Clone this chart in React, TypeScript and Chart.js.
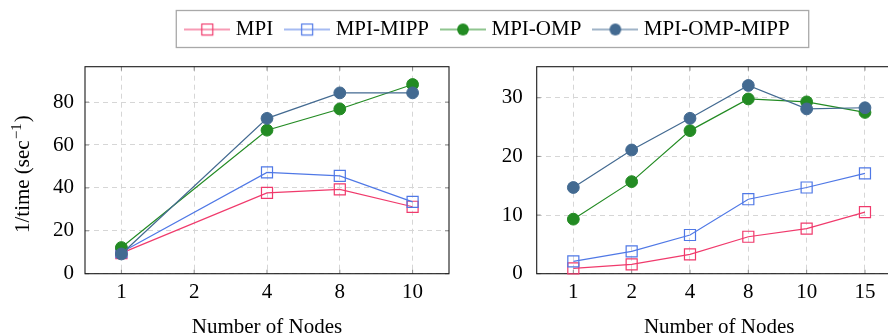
import React, { useEffect, useRef } from 'react';
import { Chart, registerables } from 'chart.js';

Chart.register(...registerables);

// ---- data ----
const seriesNames = ['MPI', 'MPI-MIPP', 'MPI-OMP', 'MPI-OMP-MIPP'];
const seriesColors = ['#F03A6C', '#4F78E6', '#238B23', '#436A91'];
const seriesMarkers = ['rect', 'rect', 'circle', 'circle'];

const leftNodes = ['1', '2', '4', '8', '10'];
const leftMPI = [9.6, null, 37.7, 39.3, 31.2];
const leftMPIMIPP = [10.0, null, 47.2, 45.6, 33.5];
const leftMPIOMP = [12.2, null, 66.9, 76.8, 88.2];
const leftMPIOMPMIPP = [9.2, null, 72.4, 84.3, 84.3];
const leftYMax = 96.5;
const leftYStep = 20;

const rightNodes = ['1', '2', '4', '8', '10', '15'];
const rightMPI = [0.9, 1.6, 3.3, 6.3, 7.7, 10.5];
const rightMPIMIPP = [2.1, 3.8, 6.6, 12.7, 14.7, 17.1];
const rightMPIOMP = [9.3, 15.7, 24.4, 29.8, 29.3, 27.5];
const rightMPIOMPMIPP = [14.7, 21.1, 26.5, 32.1, 28.1, 28.3];
const rightYMax = 35.3;
const rightYStep = 10;

const xTitle = 'Number of Nodes';
const yTitleMain = '1/time (sec';
const yTitleSup = '\u22121';
const yTitleEnd = ')';

// ---- styling / layout ----
const FONT = 'Liberation Serif';
const FS = 21;
const PLOT_TOP = 66.7;
const PLOT_BOTTOM = 273.7;
const H = 336;
const GRID = '#d6d6d6';

Chart.defaults.font.family = FONT;
Chart.defaults.font.size = FS;
Chart.defaults.color = '#000';

function makeDatasets(values: (number | null)[][]) {
  return seriesNames.map((name, i) => {
    const rect = seriesMarkers[i] === 'rect';
    return {
      label: name,
      data: values[i].map((v, k) => ({ x: k, y: v })),
      borderColor: seriesColors[i],
      backgroundColor: rect ? 'rgba(0,0,0,0)' : seriesColors[i],
      pointBackgroundColor: rect ? 'rgba(0,0,0,0)' : seriesColors[i],
      pointBorderColor: seriesColors[i],
      pointStyle: seriesMarkers[i],
      pointRadius: rect ? 7.8 : 5.9,
      pointHoverRadius: rect ? 7.8 : 5.9,
      pointBorderWidth: rect ? 1.2 : 1,
      borderWidth: 1.2,
      spanGaps: true,
      tension: 0,
      order: 4 - i,
      clip: false as any,
    };
  });
}

const boxPlugin = {
  id: 'pgfBox',
  beforeDatasetsDraw(chart: any) {
    const { ctx, chartArea } = chart;
    const { left, right, top, bottom } = chartArea;
    const xs = chart.scales.x;
    const ys = chart.scales.y;
    ctx.save();
    ctx.strokeStyle = '#8a8a8a';
    ctx.lineWidth = 1;
    ctx.beginPath();
    ys.ticks.forEach((_t: any, i: number) => {
      const p = ys.getPixelForTick(i);
      ctx.moveTo(left, p); ctx.lineTo(left + 4, p);
      ctx.moveTo(right, p); ctx.lineTo(right - 4, p);
    });
    xs.ticks.forEach((_t: any, i: number) => {
      const p = xs.getPixelForTick(i);
      ctx.moveTo(p, bottom); ctx.lineTo(p, bottom - 4);
      ctx.moveTo(p, top); ctx.lineTo(p, top + 4);
    });
    ctx.stroke();
    ctx.strokeStyle = '#1a1a1a';
    ctx.lineWidth = 1.1;
    ctx.strokeRect(left, top, right - left, bottom - top);
    ctx.restore();
  },
};

// y-axis title with a real superscript
const yTitlePlugin = {
  id: 'yTitleSup',
  afterDraw(chart: any) {
    const { ctx, chartArea } = chart;
    const cy = (chartArea.top + chartArea.bottom) / 2 + 4;
    ctx.save();
    ctx.translate(22, cy);
    ctx.rotate(-Math.PI / 2);
    ctx.fillStyle = '#000';
    ctx.textBaseline = 'alphabetic';
    ctx.textAlign = 'left';
    const big = `${FS}px "${FONT}"`;
    const small = `15px "${FONT}"`;
    ctx.font = big;
    const w1 = ctx.measureText(yTitleMain).width;
    const w3 = ctx.measureText(yTitleEnd).width;
    ctx.font = small;
    const w2 = ctx.measureText(yTitleSup).width;
    const gap = 1;
    let x = -(w1 + w2 + w3 + 2 * gap) / 2;
    ctx.font = big;
    ctx.fillText(yTitleMain, x, 7);
    x += w1 + gap;
    ctx.font = small;
    ctx.fillText(yTitleSup, x, -1);
    x += w2 + gap;
    ctx.font = big;
    ctx.fillText(yTitleEnd, x, 7);
    ctx.restore();
  },
};

function makeConfig(
  labels: string[], values: (number | null)[][], xMin: number, xMax: number,
  yMax: number, yStep: number,
  yAxisWidth: number, padRight: number, tickPad: number, showYTitle: boolean,
): any {
  return {
    type: 'line',
    data: { datasets: makeDatasets(values) },
    options: {
      responsive: false,
      animation: false,
      events: [],
      layout: { autoPadding: false, padding: { top: PLOT_TOP, left: 0, right: padRight, bottom: 0 } },
      plugins: { legend: { display: false }, tooltip: { enabled: false } },
      scales: {
        x: {
          type: 'linear',
          min: xMin,
          max: xMax,
          afterBuildTicks: (s: any) => { s.ticks = labels.map((_l, i) => ({ value: i })); },
          grid: { color: GRID, drawTicks: false, lineWidth: 1 },
          border: { display: false, dash: [5, 4] },
          ticks: {
            padding: 6, color: '#000', font: { family: FONT, size: FS }, maxRotation: 0,
            autoSkip: false,
            callback: (v: any) => labels[Math.round(v)] ?? '',
          },
          title: {
            display: true, text: xTitle, color: '#000',
            font: { family: FONT, size: FS, lineHeight: 1 }, padding: { top: 0, bottom: -2 },
          },
          afterFit: (s: any) => { s.height = H - PLOT_BOTTOM; },
        },
        y: {
          type: 'linear',
          min: 0,
          max: yMax,
          grid: { color: GRID, drawTicks: false, lineWidth: 1 },
          border: { display: false, dash: [5, 4] },
          ticks: { stepSize: yStep, includeBounds: false, padding: tickPad, color: '#000', font: { family: FONT, size: FS } },
          afterFit: (s: any) => { s.width = yAxisWidth; },
        },
      },
    },
    plugins: showYTitle ? [boxPlugin, yTitlePlugin] : [boxPlugin],
  };
}

function makeLegendImage(color: string, kind: string): HTMLCanvasElement {
  const c = document.createElement('canvas');
  c.width = 46;
  c.height = 14;
  const ctx = c.getContext('2d')!;
  ctx.strokeStyle = color;
  ctx.lineWidth = 1.2;
  ctx.beginPath();
  ctx.moveTo(0, 7);
  ctx.lineTo(46, 7);
  ctx.stroke();
  if (kind === 'rect') {
    ctx.strokeRect(17.5, 1.5, 11, 11);
  } else {
    ctx.fillStyle = color;
    ctx.beginPath();
    ctx.arc(23, 7, 5.9, 0, Math.PI * 2);
    ctx.fill();
  }
  return c;
}

const legendBoxPlugin = {
  id: 'legendBox',
  afterDraw(chart: any) {
    const hb = chart.legend && chart.legend.legendHitBoxes;
    if (!hb || !hb.length) return;
    const first = hb[0];
    const last = hb[hb.length - 1];
    const l = first.left - 13;
    const r = last.left + last.width + 19;
    const t = first.top - 8.5;
    const b = first.top + 28.5;
    const ctx = chart.ctx;
    ctx.save();
    ctx.strokeStyle = '#a9a9a9';
    ctx.lineWidth = 1.3;
    ctx.strokeRect(l, t, r - l, b - t);
    ctx.restore();
  },
};

export default function App() {
  const leftRef = useRef<HTMLCanvasElement>(null);
  const rightRef = useRef<HTMLCanvasElement>(null);
  const legendRef = useRef<HTMLCanvasElement>(null);

  useEffect(() => {
    // left plot: x from 85 to 449 ; right plot: x from 536.7 to 901.6 (clipped by the window)
    const left = new Chart(
      leftRef.current!,
      makeConfig(leftNodes, [leftMPI, leftMPIMIPP, leftMPIOMP, leftMPIOMPMIPP],
        -0.5, 4.5, leftYMax, leftYStep, 85, 460 - 449, 11, true),
    );
    const right = new Chart(
      rightRef.current!,
      makeConfig(rightNodes, [rightMPI, rightMPIMIPP, rightMPIOMP, rightMPIOMPMIPP],
        -0.628, 5.628, rightYMax, rightYStep, 76.7, 460 - 441.6, 14, false),
    );
    const images = seriesNames.map((_n, i) => makeLegendImage(seriesColors[i], seriesMarkers[i]));
    const legend = new Chart(legendRef.current!, {
      type: 'line',
      data: {
        labels: [],
        datasets: seriesNames.map((name, i) => ({ label: name, data: [], borderColor: seriesColors[i] })),
      },
      options: {
        responsive: false,
        animation: false,
        events: [],
        layout: { padding: { top: 3, left: 91, right: 0, bottom: 0 } },
        scales: { x: { display: false }, y: { display: false } },
        plugins: {
          tooltip: { enabled: false },
          legend: {
            display: true,
            position: 'top',
            maxHeight: 80,
            labels: {
              usePointStyle: true,
              pointStyleWidth: 36,
              boxHeight: 14,
              padding: 16,
              color: '#000',
              font: { family: FONT, size: FS },
              generateLabels: (ch: any) => ch.data.datasets.map((ds: any, i: number) => ({
                text: ds.label,
                pointStyle: images[i],
                fillStyle: 'rgba(0,0,0,0)',
                strokeStyle: 'rgba(0,0,0,0)',
                lineWidth: 0,
                hidden: false,
                datasetIndex: i,
                fontColor: '#000',
              })),
            },
          },
        },
      } as any,
      plugins: [legendBoxPlugin],
    } as any);
    return () => {
      left.destroy();
      right.destroy();
      legend.destroy();
    };
  }, []);

  return (
    <div style={{ position: 'fixed', left: 0, top: 0, width: 888, height: 336, overflow: 'hidden', background: '#fff' }}>
      <canvas ref={leftRef} width={460} height={336} style={{ position: 'absolute', left: 0, top: 0 }} />
      <canvas ref={rightRef} width={460} height={336} style={{ position: 'absolute', left: 460, top: 0 }} />
      <canvas ref={legendRef} width={888} height={140} style={{ position: 'absolute', left: 0, top: 0 }} />
    </div>
  );
}
